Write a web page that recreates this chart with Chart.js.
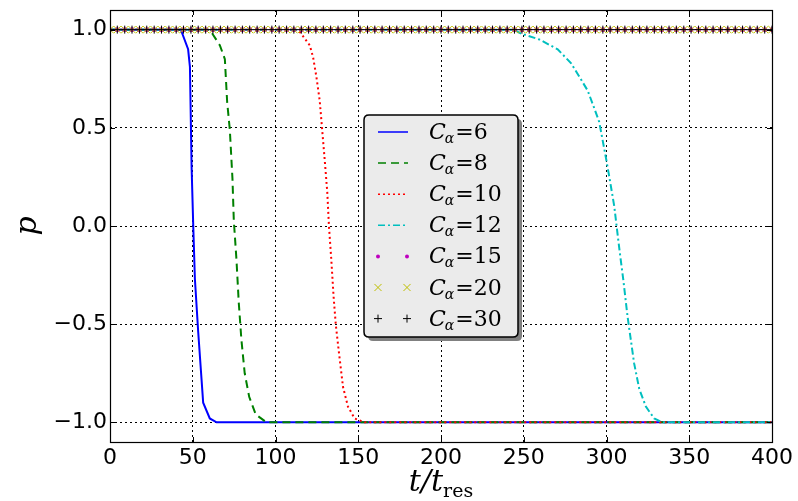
<!DOCTYPE html>
<html>
<head>
<meta charset="utf-8">
<script src="https://cdn.jsdelivr.net/npm/chart.js@4.4.0/dist/chart.umd.min.js"></script>
<style>
  html, body { margin: 0; padding: 0; background: #fff; }
  #wrap { width: 798px; height: 501px; position: relative; }
</style>
</head>
<body>
<div id="wrap"><canvas id="pChart"></canvas></div>
<script>
// ---- data ----
const cValues = [6, 8, 10, 12, 15, 20, 30];

const c6T = [0, 42.8, 47.2, 48.3, 49.3, 50.3, 51.3, 53.3, 55.3, 56.3, 60.3, 64.4, 400];
const c6P = [1, 1, 0.90, 0.81, 0.30, 0.0, -0.27, -0.54, -0.78, -0.90, -0.98, -1, -1];

const c8T = [0, 60.3, 66.4, 69.4, 70.8, 72.4, 74.0, 74.8, 76.4, 77.8, 79.4, 81.4, 84.1, 88.1, 94.5, 400];
const c8P = [1, 1, 0.92, 0.85, 0.63, 0.49, 0.24, 0.03, -0.17, -0.39, -0.58, -0.75, -0.87, -0.96, -1, -1];

const c10T = [0, 112, 114.6, 120.7, 122.7, 124.7, 126.7, 128.1, 129.7, 131.3, 132.3, 133.7, 135.1, 136.4, 138.4, 140.8, 143.8, 147.8, 153.8, 400];
const c10P = [1, 1, 0.99, 0.92, 0.86, 0.76, 0.64, 0.50, 0.34, 0.17, 0.0, -0.17, -0.36, -0.50, -0.65, -0.82, -0.92, -0.98, -1, -1];

const c12T = [0, 244, 248.4, 259.4, 270.5, 278.5, 283.6, 288.6, 292.6, 295.6, 297.6, 299.6, 301.7, 304.7, 306.1, 308.1, 310.1, 312.7, 314.7, 316.7, 319.8, 323.8, 328.8, 333.8, 400];
const c12P = [1, 1, 0.98, 0.95, 0.90, 0.83, 0.76, 0.69, 0.60, 0.53, 0.44, 0.35, 0.25, 0.10, 0.0, -0.14, -0.27, -0.46, -0.58, -0.70, -0.83, -0.92, -0.98, -1, -1];

// C=15, 20, 30 never leave p = 1 (marker-only series)
const flatT = [
  0, 4.4, 8.9, 13.3, 17.8, 22.2, 26.7, 31.1, 35.6, 40,
  44.4, 48.9, 53.3, 57.8, 62.2, 66.7, 71.1, 75.6, 80, 84.4,
  88.9, 93.3, 97.8, 102.2, 106.7, 111.1, 115.6, 120, 124.4, 128.9,
  133.3, 137.8, 142.2, 146.7, 151.1, 155.6, 160, 164.4, 168.9, 173.3,
  177.8, 182.2, 186.7, 191.1, 195.6, 200, 204.4, 208.9, 213.3, 217.8,
  222.2, 226.7, 231.1, 235.6, 240, 244.4, 248.9, 253.3, 257.8, 262.2,
  266.7, 271.1, 275.6, 280, 284.4, 288.9, 293.3, 297.8, 302.2, 306.7,
  311.1, 315.6, 320, 324.4, 328.9, 333.3, 337.8, 342.2, 346.7, 351.1,
  355.6, 360, 364.4, 368.9, 373.3, 377.8, 382.2, 386.7, 391.1, 395.6,
  400
];
const c15Level = 1.0;
const c20Level = 1.0;
const c30Level = 1.0;

const xTicks = [0, 50, 100, 150, 200, 250, 300, 350, 400];
const yTicks = [-1.0, -0.5, 0.0, 0.5, 1.0];

// ---- dataset builders ----
function lineSet(c, ts, ps, color, dash, order) {
    return {
        label: "C\u03b1=" + c,
        data: ts.map((t, i) => ({ x: t, y: ps[i] })),
        borderColor: color,
        backgroundColor: color,
        borderWidth: 2,
        borderDash: dash,
        pointRadius: 0,
        tension: 0,
        fill: false,
        order: order
    };
}

function markSet(c, level, style, color, radius, order) {
    return {
        label: "C\u03b1=" + c,
        data: flatT.map(t => ({ x: t, y: level })),
        showLine: false,
        pointStyle: style,
        pointRadius: radius,
        pointBorderColor: color,
        pointBackgroundColor: color,
        pointBorderWidth: 1,
        clip: 0,
        order: order
    };
}

const datasets = [
    lineSet(cValues[0], c6T, c6P, "#0000ff", [], 6),
    lineSet(cValues[1], c8T, c8P, "#008000", [8, 5], 5),
    lineSet(cValues[2], c10T, c10P, "#ff0000", [2, 3], 4),
    lineSet(cValues[3], c12T, c12P, "#00bfbf", [7, 3, 2, 3], 3),
    markSet(cValues[4], c15Level, "circle", "#bf00bf", 2, 2),
    markSet(cValues[5], c20Level, "crossRot", "#bfbf00", 5, 1),
    markSet(cValues[6], c30Level, "cross", "#000000", 4, 0)
];

// ---- helpers for the matplotlib look ----
function roundRect(ctx, x, y, w, h, r) {
    ctx.beginPath();
    ctx.moveTo(x + r, y);
    ctx.lineTo(x + w - r, y);
    ctx.quadraticCurveTo(x + w, y, x + w, y + r);
    ctx.lineTo(x + w, y + h - r);
    ctx.quadraticCurveTo(x + w, y + h, x + w - r, y + h);
    ctx.lineTo(x + r, y + h);
    ctx.quadraticCurveTo(x, y + h, x, y + h - r);
    ctx.lineTo(x, y + r);
    ctx.quadraticCurveTo(x, y, x + r, y);
    ctx.closePath();
}

function drawMark(ctx, ds, x, y) {
    const r = ds.pointRadius;
    ctx.save();
    ctx.strokeStyle = ds.pointBorderColor;
    ctx.fillStyle = ds.pointBackgroundColor;
    ctx.lineWidth = 1;
    ctx.setLineDash([]);
    ctx.beginPath();
    if (ds.pointStyle === "circle") {
        ctx.arc(x, y, r, 0, Math.PI * 2);
        ctx.fill();
    } else if (ds.pointStyle === "cross") {
        ctx.moveTo(x - r, y); ctx.lineTo(x + r, y);
        ctx.moveTo(x, y - r); ctx.lineTo(x, y + r);
        ctx.stroke();
    } else {
        const d = r * Math.SQRT1_2;
        ctx.moveTo(x - d, y - d); ctx.lineTo(x + d, y + d);
        ctx.moveTo(x - d, y + d); ctx.lineTo(x + d, y - d);
        ctx.stroke();
    }
    ctx.restore();
}

const framePlugin = {
    id: "frame",
    afterDatasetsDraw(chart) {
        const { ctx, chartArea: a, scales } = chart;
        ctx.save();
        ctx.strokeStyle = "#000";
        ctx.lineWidth = 1;
        ctx.setLineDash([]);
        // inward tick marks on all four sides
        ctx.beginPath();
        scales.x.ticks.forEach(t => {
            const px = Math.round(scales.x.getPixelForValue(t.value)) + 0.5;
            ctx.moveTo(px, a.bottom); ctx.lineTo(px, a.bottom - 5);
            ctx.moveTo(px, a.top); ctx.lineTo(px, a.top + 5);
        });
        scales.y.ticks.forEach(t => {
            const py = Math.round(scales.y.getPixelForValue(t.value)) + 0.5;
            ctx.moveTo(a.left, py); ctx.lineTo(a.left + 5, py);
            ctx.moveTo(a.right, py); ctx.lineTo(a.right - 5, py);
        });
        ctx.stroke();
        ctx.lineWidth = 1.2;
        ctx.strokeRect(Math.round(a.left) + 0.5, Math.round(a.top) + 0.5,
            Math.round(a.right - a.left), Math.round(a.bottom - a.top));
        ctx.restore();
    },
    afterDraw(chart) {
        const { ctx, chartArea: a } = chart;
        ctx.save();

        // legend box
        const bx = 364, by = 115, bw = 154, bh = 222;
        roundRect(ctx, bx + 4, by + 4, bw, bh, 5);
        ctx.fillStyle = "#808080";
        ctx.fill();
        roundRect(ctx, bx, by, bw, bh, 5);
        ctx.fillStyle = "#ebebeb";
        ctx.fill();
        ctx.lineWidth = 1.5;
        ctx.strokeStyle = "#000";
        ctx.stroke();

        chart.data.datasets.forEach((ds, i) => {
            const cy = by + 17 + i * 31.1;
            if (ds.showLine === false) {
                drawMark(ctx, ds, 378, cy);
                drawMark(ctx, ds, 407, cy);
            } else {
                ctx.save();
                ctx.strokeStyle = ds.borderColor;
                ctx.lineWidth = 1.5;
                ctx.setLineDash(ds.borderDash);
                ctx.beginPath();
                ctx.moveTo(378, cy); ctx.lineTo(408, cy);
                ctx.stroke();
                ctx.restore();
            }
            ctx.fillStyle = "#000";
            ctx.textBaseline = "alphabetic";
            ctx.textAlign = "left";
            let tx = 429;
            ctx.font = "italic 22px 'DejaVu Serif'";
            ctx.fillText("C", tx, cy + 7);
            tx += ctx.measureText("C").width - 1;
            ctx.font = "italic 14px 'DejaVu Serif'";
            ctx.fillText("\u03b1", tx, cy + 11);
            tx += ctx.measureText("\u03b1").width + 1;
            ctx.font = "22px 'DejaVu Serif'";
            ctx.fillText("=" + cValues[i], tx, cy + 7);
        });

        // axis titles
        ctx.fillStyle = "#000";
        ctx.textBaseline = "alphabetic";
        ctx.font = "italic 30px 'DejaVu Serif'";
        const main = "t/t";
        const wMain = ctx.measureText(main).width;
        ctx.font = "19px 'DejaVu Serif'";
        const wSub = ctx.measureText("res").width;
        let x0 = (a.left + a.right) / 2 - (wMain + wSub) / 2;
        ctx.font = "italic 30px 'DejaVu Serif'";
        ctx.fillText(main, x0, 491);
        ctx.font = "19px 'DejaVu Serif'";
        ctx.fillText("res", x0 + wMain, 497);

        ctx.translate(36, (a.top + a.bottom) / 2);
        ctx.rotate(-Math.PI / 2);
        ctx.textAlign = "center";
        ctx.font = "italic 30px 'DejaVu Serif'";
        ctx.fillText("p", 0, 0);
        ctx.restore();
    }
};

const tickFont = { family: "'DejaVu Sans'", size: 22 };

new Chart(document.getElementById("pChart"), {
    type: "line",
    data: { datasets: datasets },
    options: {
        responsive: true,
        maintainAspectRatio: false,
        animation: false,
        events: [],
        layout: {
            padding: { top: 10, right: 26, bottom: 0, left: 0 }
        },
        plugins: {
            legend: { display: false },
            tooltip: { enabled: false }
        },
        scales: {
            x: {
                type: "linear",
                min: xTicks[0],
                max: xTicks[xTicks.length - 1],
                afterBuildTicks: s => { s.ticks = xTicks.map(v => ({ value: v })); },
                afterFit: s => { s.height = 59; },
                ticks: {
                    color: "#000",
                    font: tickFont,
                    padding: 3,
                    maxRotation: 0,
                    callback: v => String(v)
                },
                grid: { color: "#000", lineWidth: 1, drawTicks: false },
                border: { display: false, dash: [2, 3] }
            },
            y: {
                type: "linear",
                min: -1.1,
                max: 1.1,
                afterBuildTicks: s => { s.ticks = yTicks.map(v => ({ value: v })); },
                // the 1.0 label sits below the top edge, so no overhang room is needed
                afterFit: s => { s.width = 110; s.paddingTop = 0; s.paddingBottom = 0; },
                ticks: {
                    color: "#000",
                    font: tickFont,
                    padding: 3,
                    callback: v => v.toFixed(1).replace("-", "\u2212")
                },
                grid: { color: "#000", lineWidth: 1, drawTicks: false },
                border: { display: false, dash: [2, 3] }
            }
        }
    },
    plugins: [framePlugin]
});
</script>
</body>
</html>
